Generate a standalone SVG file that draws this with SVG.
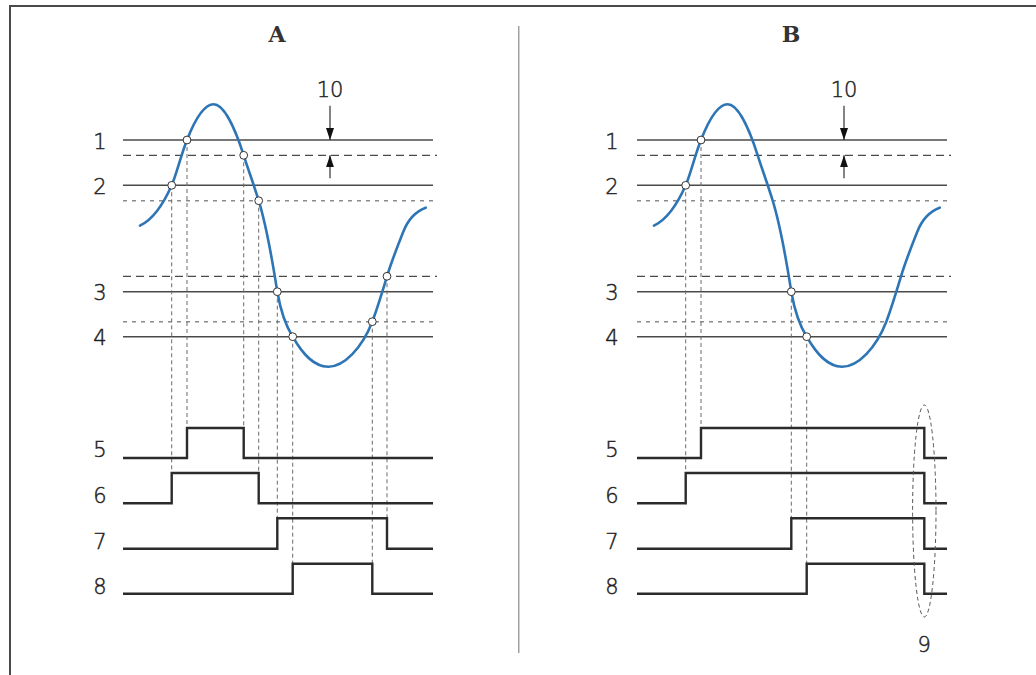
<svg xmlns="http://www.w3.org/2000/svg" width="1036" height="675" viewBox="0 0 1036 675">
<defs>
<style>
.frame{fill:none;stroke:#4a4a4a;stroke-width:2}
.divider{fill:none;stroke:#8a8a8a;stroke-width:1.2}
.title{font-family:"DejaVu Serif","Liberation Serif",serif;font-weight:bold;font-size:22px;fill:#333;text-anchor:middle}
.num{font-family:"DejaVu Sans","Liberation Sans",sans-serif;font-weight:300;font-size:21px;fill:#222;stroke:#222;stroke-width:0.45;text-anchor:middle}
.lvl{fill:none;stroke:#4a4a4a;stroke-width:1.5}
.hys1{fill:none;stroke:#4a4a4a;stroke-width:1.3;stroke-dasharray:8 5}
.hys2{fill:none;stroke:#8a8a8a;stroke-width:1.4;stroke-dasharray:4 5}
.guide{fill:none;stroke:#6a6a6a;stroke-width:1;stroke-dasharray:4 3}
.curve{fill:none;stroke:#2e75b6;stroke-width:2.6;stroke-linejoin:round;stroke-linecap:round}
.pt{fill:#fff;stroke:#333;stroke-width:1}
.sig{fill:none;stroke:#2b2b2b;stroke-width:2.4;stroke-linejoin:miter}
.arr{fill:none;stroke:#333;stroke-width:1.2}
.ell{fill:none;stroke:#555;stroke-width:1;stroke-dasharray:4 3}
</style>
<marker id="ah" viewBox="0 0 12 8" refX="12" refY="4" markerWidth="12" markerHeight="8" markerUnits="userSpaceOnUse" orient="auto">
<path d="M0,0 L12,4 L0,8 z" fill="#111"/>
</marker>
</defs>

<g id="frame">
<path class="frame" d="M10 675 V6 H1036"/>
<line class="divider" x1="518.8" y1="26" x2="518.8" y2="653"/>
</g>

<g id="panel-a">
<text class="title" x="277" y="42">A</text>
<g id="a-levels">
<line class="lvl" x1="123" y1="140" x2="433" y2="140"/>
<line class="hys1" x1="123" y1="155.3" x2="437" y2="155.3"/>
<line class="lvl" x1="123" y1="185.3" x2="433" y2="185.3"/>
<line class="hys2" x1="123" y1="200.7" x2="437" y2="200.7"/>
<line class="hys1" x1="123" y1="276.3" x2="437" y2="276.3"/>
<line class="lvl" x1="123" y1="291.7" x2="433" y2="291.7"/>
<line class="hys2" x1="123" y1="321.7" x2="437" y2="321.7"/>
<line class="lvl" x1="123" y1="336.7" x2="433" y2="336.7"/>
</g>
<g id="a-labels">
<text class="num" x="100" y="149.3">1</text>
<text class="num" x="100" y="194.3">2</text>
<text class="num" x="100" y="300">3</text>
<text class="num" x="100" y="345">4</text>
<text class="num" x="100" y="457.3">5</text>
<text class="num" x="100" y="503">6</text>
<text class="num" x="100" y="548.7">7</text>
<text class="num" x="100" y="593.7">8</text>
<text class="num" x="330" y="96.5">10</text>
</g>
<g id="a-arrows">
<line class="arr" x1="330" y1="105.7" x2="330" y2="140" marker-end="url(#ah)"/>
<line class="arr" x1="330" y1="178.3" x2="330" y2="155.3" marker-end="url(#ah)"/>
</g>
<g id="a-guides">
<line class="guide" x1="171.7" y1="185.3" x2="171.7" y2="473"/>
<line class="guide" x1="187" y1="140" x2="187" y2="428"/>
<line class="guide" x1="243.7" y1="155.3" x2="243.7" y2="428"/>
<line class="guide" x1="258.7" y1="200.7" x2="258.7" y2="473"/>
<line class="guide" x1="277.3" y1="291.7" x2="277.3" y2="518.3"/>
<line class="guide" x1="292.7" y1="336.7" x2="292.7" y2="563.7"/>
<line class="guide" x1="372.3" y1="321.7" x2="372.3" y2="563.7"/>
<line class="guide" x1="387" y1="276.3" x2="387" y2="518.3"/>
</g>
<path id="a-curve" class="curve" d="M140 225.7 C152 220,163 205,171.7 185.3 C176.5 174,181 155,187 140 C194 122,203 104.3,213.7 104.3 C224 104.3,235 128,243.7 155.3 C248.5 170.5,254 185,258.7 200.7 C264 218,272 258,277.3 291.7 C281 313,286 326,292.7 336.7 C302 353,313 366.7,328.3 366.7 C344 366.7,362 348,372.3 321.7 C377 309,382 293,387 276.3 C392 260,398 245,403.3 231.7 C409 217,417 211,425.7 207.7"/>
<g id="a-points">
<circle class="pt" cx="171.7" cy="185.3" r="3.9"/>
<circle class="pt" cx="187" cy="140" r="3.9"/>
<circle class="pt" cx="243.7" cy="155.3" r="3.9"/>
<circle class="pt" cx="258.7" cy="200.7" r="3.9"/>
<circle class="pt" cx="277.3" cy="291.7" r="3.9"/>
<circle class="pt" cx="292.7" cy="336.7" r="3.9"/>
<circle class="pt" cx="372.3" cy="321.7" r="3.9"/>
<circle class="pt" cx="387" cy="276.3" r="3.9"/>
</g>
<g id="a-signals">
<path class="sig" d="M123 458 H187 V428 H243.7 V458 H433"/>
<path class="sig" d="M123 503.3 H171.7 V473 H258.7 V503.3 H433"/>
<path class="sig" d="M123 548.7 H277.3 V518.3 H387 V548.7 H433"/>
<path class="sig" d="M123 593.7 H292.7 V563.7 H372.3 V593.7 H433"/>
</g>
</g>

<g id="panel-b">
<text class="title" x="791" y="42">B</text>
<g id="b-levels">
<line class="lvl" x1="637" y1="140" x2="947" y2="140"/>
<line class="hys1" x1="637" y1="155.3" x2="951" y2="155.3"/>
<line class="lvl" x1="637" y1="185.3" x2="947" y2="185.3"/>
<line class="hys2" x1="637" y1="200.7" x2="951" y2="200.7"/>
<line class="hys1" x1="637" y1="276.3" x2="951" y2="276.3"/>
<line class="lvl" x1="637" y1="291.7" x2="947" y2="291.7"/>
<line class="hys2" x1="637" y1="321.7" x2="951" y2="321.7"/>
<line class="lvl" x1="637" y1="336.7" x2="947" y2="336.7"/>
</g>
<g id="b-labels">
<text class="num" x="612" y="149.3">1</text>
<text class="num" x="612" y="194.3">2</text>
<text class="num" x="612" y="300">3</text>
<text class="num" x="612" y="345">4</text>
<text class="num" x="612" y="457.3">5</text>
<text class="num" x="612" y="503">6</text>
<text class="num" x="612" y="548.7">7</text>
<text class="num" x="612" y="593.7">8</text>
<text class="num" x="844" y="96.5">10</text>
<text class="num" x="924.3" y="651.7">9</text>
</g>
<g id="b-arrows">
<line class="arr" x1="844" y1="105.7" x2="844" y2="140" marker-end="url(#ah)"/>
<line class="arr" x1="844" y1="178.3" x2="844" y2="155.3" marker-end="url(#ah)"/>
</g>
<g id="b-guides">
<line class="guide" x1="685.7" y1="185.3" x2="685.7" y2="473"/>
<line class="guide" x1="701" y1="140" x2="701" y2="428"/>
<line class="guide" x1="791.3" y1="291.7" x2="791.3" y2="518.3"/>
<line class="guide" x1="806.7" y1="336.7" x2="806.7" y2="563.7"/>
</g>
<path id="b-curve" class="curve" transform="translate(514 0)" d="M140 225.7 C152 220,163 205,171.7 185.3 C176.5 174,181 155,187 140 C194 122,203 104.3,213.7 104.3 C224 104.3,235 128,243.7 155.3 C248.5 170.5,254 185,258.7 200.7 C264 218,272 258,277.3 291.7 C281 313,286 326,292.7 336.7 C302 353,313 366.7,328.3 366.7 C344 366.7,362 348,372.3 321.7 C377 309,382 293,387 276.3 C392 260,398 245,403.3 231.7 C409 217,417 211,425.7 207.7"/>
<g id="b-points">
<circle class="pt" cx="685.7" cy="185.3" r="3.9"/>
<circle class="pt" cx="701" cy="140" r="3.9"/>
<circle class="pt" cx="791.3" cy="291.7" r="3.9"/>
<circle class="pt" cx="806.7" cy="336.7" r="3.9"/>
</g>
<g id="b-signals">
<path class="sig" d="M637 458 H701 V428 H924.3 V458 H947"/>
<path class="sig" d="M637 503.3 H685.7 V473 H924.3 V503.3 H947"/>
<path class="sig" d="M637 548.7 H791.3 V518.3 H924.3 V548.7 H947"/>
<path class="sig" d="M637 593.7 H806.7 V563.7 H924.3 V593.7 H947"/>
</g>
<ellipse id="b-group-9" class="ell" cx="924.3" cy="511" rx="11.7" ry="106"/>
</g>
</svg>
